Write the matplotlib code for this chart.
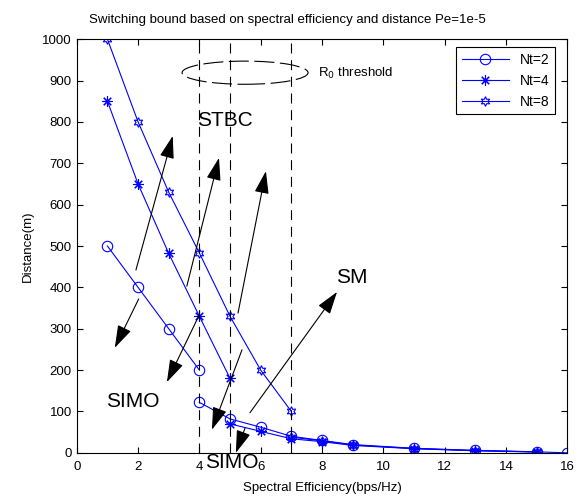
import matplotlib
matplotlib.use("Agg")
import matplotlib.pyplot as plt
from matplotlib.patches import Ellipse
import numpy as np

plt.rcParams['font.family'] = ['Liberation Sans', 'DejaVu Sans']

# data: upper branch (before threshold) and lower branch
nt2_x_hi = [1, 2, 3, 4]
nt2_y_hi = [500, 400, 300, 200]
nt2_x_lo = [4, 5, 6, 7, 8, 9, 11, 13, 15, 16]
nt2_y_lo = [122, 82, 62, 40, 30, 20, 11, 6, 2.5, 0]

nt4_x_hi = [1, 2, 3, 4, 5]
nt4_y_hi = [850, 650, 482, 330, 180]
nt4_x_lo = [5, 6, 7, 8, 9, 11, 13, 15]
nt4_y_lo = [70, 52, 34, 27, 18, 10, 5, 2]

nt8_x_hi = [1, 2, 3, 4, 5, 6, 7]
nt8_y_hi = [1000, 800, 630, 483, 330, 200, 100]
nt8_x_lo = [7, 8, 9, 11, 13, 15]
nt8_y_lo = [38, 29, 19, 10.5, 5.5, 2.2]

thresholds = [4, 5, 7]

# arrows (tail -> head) in data units
arrow_tails = [(1.93, 442), (2.02, 372), (3.59, 403), (3.98, 331),
               (5.26, 338), (5.39, 249), (5.49, 60), (5.65, 97)]
arrow_heads = [(3.13, 766), (1.24, 254), (4.64, 713), (2.94, 171),
               (6.17, 681), (4.41, 56), (5.19, 0), (8.49, 389)]

blue = (0, 0, 1)

fig = plt.figure(figsize=(5.86, 4.96), dpi=100)
ax = fig.add_axes([0.131, 0.087, 0.837, 0.834])

hexagram = (6, 1, 0)
aster = (8, 2, 0)

ax.plot(nt2_x_hi, nt2_y_hi, color=blue, lw=0.8, marker='o', mfc='none', ms=7.5, mew=0.8, label='Nt=2')
ax.plot(nt4_x_hi, nt4_y_hi, color=blue, lw=0.8, marker=aster, ms=7.5, mew=0.8, label='Nt=4')
ax.plot(nt8_x_hi, nt8_y_hi, color=blue, lw=0.8, marker=hexagram, mfc='none', ms=7, mew=0.8, label='Nt=8')
ax.plot(nt2_x_lo, nt2_y_lo, color=blue, lw=0.8, marker='o', mfc='none', ms=7.5, mew=0.8)
ax.plot(nt4_x_lo, nt4_y_lo, color=blue, lw=0.8, marker=aster, ms=7.5, mew=0.8)
ax.plot(nt8_x_lo, nt8_y_lo, color=blue, lw=0.8, marker=hexagram, mfc='none', ms=7, mew=0.8)

# threshold lines
ax.vlines(thresholds, 0, 1000, colors='black', lw=0.8, linestyles=(0, (9, 6)))

# R0 threshold ellipse
ell = Ellipse((5.49, 919), 4.11, 56, fill=False, ec='black', lw=0.8, linestyle=(0, (18, 5)))
ax.add_patch(ell)
ax.text(7.87, 918, r'R$_0$ threshold', fontsize=9.5, va='center', ha='left')

for t, h in zip(arrow_tails, arrow_heads):
    ax.annotate('', xy=h, xytext=t,
                arrowprops=dict(arrowstyle='-|>,head_length=1.0,head_width=0.32',
                                color='black', lw=0.8, shrinkA=0, shrinkB=0,
                                mutation_scale=14),
                annotation_clip=False)

ax.text(4.83, 804, 'STBC', fontsize=15, ha='center', va='center')
ax.text(1.83, 123, 'SIMO', fontsize=15, ha='center', va='center')
ax.text(5.06, -24, 'SIMO', fontsize=15, ha='center', va='center', clip_on=False)
ax.text(8.98, 423, 'SM', fontsize=15, ha='center', va='center')

ax.set_xlim(0, 16)
ax.set_ylim(0, 1000)
ax.set_xticks(np.arange(0, 17, 2))
ax.set_yticks(np.arange(0, 1001, 100))
ax.tick_params(direction='in', top=True, right=True, labelsize=9.5, length=4, width=0.8)
ax.tick_params(axis='x', pad=6)
for s in ax.spines.values():
    s.set_linewidth(0.8)

ax.set_xlabel('Spectral Efficiency(bps/Hz)', fontsize=9.5, labelpad=6)
ax.set_ylabel('Distance(m)', fontsize=9.5, labelpad=6)
fig.text(0.491, 0.960, 'Switching bound based on spectral efficiency and distance Pe=1e-5',
         fontsize=9.5, ha='center', va='center')

leg = ax.legend(loc='upper right', bbox_to_anchor=(0.9755, 0.9807), borderaxespad=0,
                fontsize=10, handlelength=3.4, fancybox=False, framealpha=1,
                edgecolor='black')
leg.get_frame().set_linewidth(0.8)

fig.savefig('out.png', dpi=100)
